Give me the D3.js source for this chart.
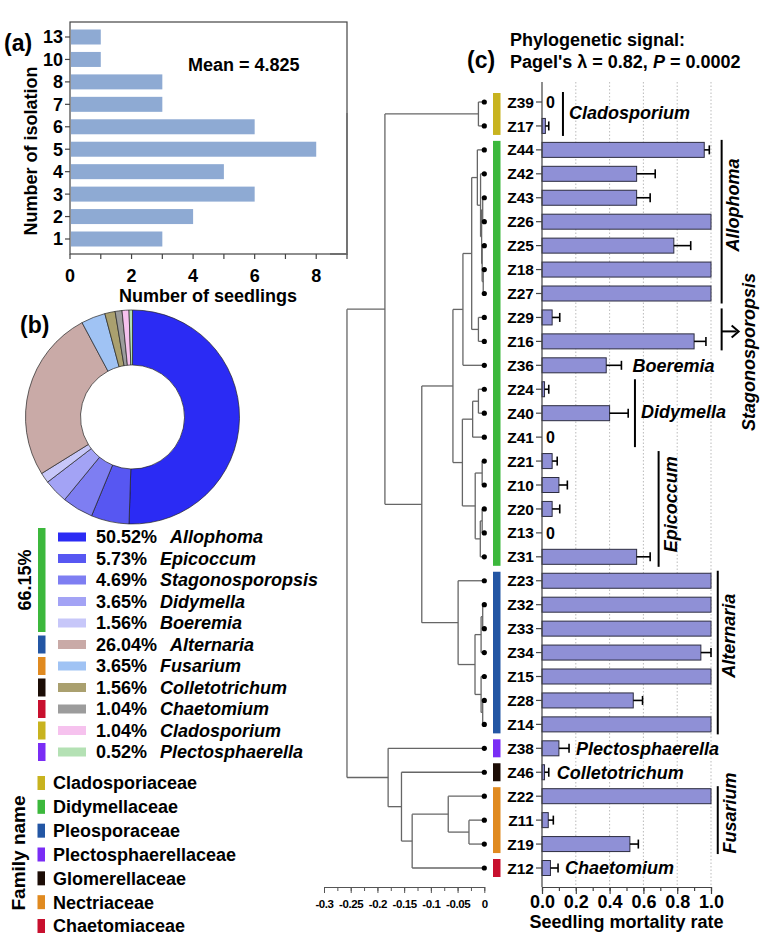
<!DOCTYPE html>
<html>
<head>
<meta charset="utf-8">
<script src="https://cdn.jsdelivr.net/npm/d3@7"></script>
<style>
  body { margin: 0; background: #fff; }
  svg text { font-family: "Liberation Sans", Arial, sans-serif; font-weight: bold; fill: #000; }
</style>
</head>
<body>
<svg width="761" height="939"></svg>
<script>
// ---- (a) number of isolations per seedling
const isolationCounts = ["13", "10", "8", "7", "6", "5", "4", "3", "2", "1"];
const seedlingNumbers = [1, 1, 3, 3, 6, 8, 5, 6, 4, 3];
const seedlingTicks = [0, 2, 4, 6, 8];

// ---- (b) genus composition
const genera = ["Allophoma", "Epicoccum", "Stagonosporopsis", "Didymella", "Boeremia", "Alternaria",
  "Fusarium", "Colletotrichum", "Chaetomium", "Cladosporium", "Plectosphaerella"];
const genusPercent = [50.52, 5.73, 4.69, 3.65, 1.56, 26.04, 3.65, 1.56, 1.04, 1.04, 0.52];
const genusColors = ["#2b2bf4", "#5757f2", "#7e7ef2", "#a3a3f5", "#c7c7f9", "#c9aaa7",
  "#a0c3f4", "#aaa06f", "#9c9c9c", "#f6c2ee", "#b4e1b4"];
const genusFamily = ["Didymellaceae", "Didymellaceae", "Didymellaceae", "Didymellaceae", "Didymellaceae",
  "Pleosporaceae", "Nectriaceae", "Glomerellaceae", "Chaetomiaceae", "Cladosporiaceae", "Plectosphaerellaceae"];

const families = ["Cladosporiaceae", "Didymellaceae", "Pleosporaceae", "Plectosphaerellaceae",
  "Glomerellaceae", "Nectriaceae", "Chaetomiaceae"];
const familyColors = ["#c8b31f", "#3cb83c", "#2356a4", "#7a2df5", "#1c0d06", "#e08a20", "#c8102e"];

// ---- (c) isolates, mortality and tree
const isolates = ["Z39", "Z17", "Z44", "Z42", "Z43", "Z26", "Z25", "Z18", "Z27", "Z29", "Z16", "Z36",
  "Z24", "Z40", "Z41", "Z21", "Z10", "Z20", "Z13", "Z31", "Z23", "Z32", "Z33", "Z34", "Z15", "Z28",
  "Z14", "Z38", "Z46", "Z22", "Z11", "Z19", "Z12"];
const isolateFamily = [0, 0, 1, 1, 1, 1, 1, 1, 1, 1, 1, 1, 1, 1, 1, 1, 1, 1, 1, 1,
  2, 2, 2, 2, 2, 2, 2, 3, 4, 5, 5, 5, 6];
const mortality = [0, 0.02, 0.96, 0.56, 0.56, 1, 0.78, 1, 1, 0.06, 0.9, 0.38,
  0.015, 0.4, 0, 0.06, 0.1, 0.06, 0, 0.56, 1, 1, 1, 0.94, 1, 0.54,
  1, 0.1, 0.015, 1, 0.037, 0.52, 0.05];
const mortalityErr = [0, 0.02, 0.03, 0.11, 0.08, 0, 0.1, 0, 0, 0.045, 0.07, 0.09,
  0.025, 0.11, 0, 0.03, 0.05, 0.045, 0, 0.08, 0, 0, 0, 0.06, 0, 0.055,
  0, 0.06, 0.025, 0, 0.03, 0.05, 0.045];
const mortalityTicks = [0, 0.2, 0.4, 0.6, 0.8, 1.0];
const treeTicks = [-0.3, -0.25, -0.2, -0.15, -0.1, -0.05, 0];

// [height, child, child]; leaves are isolate names
const tree = [-0.257,
  [-0.186,
    [-0.011, "Z39", "Z17"],
    [-0.117,
      [-0.0587,
        [-0.040,
          [-0.0236,
            [-0.013, "Z44", [-0.007, "Z42", [-0.005, [-0.003, "Z43", "Z26"], [-0.004, "Z25", [-0.002, "Z18", "Z27"]]]]],
            [-0.011, "Z29", "Z16"]],
          "Z36"],
        [-0.041,
          [-0.0218, [-0.011, "Z24", "Z40"], "Z41"],
          [-0.017, [-0.004, "Z21", "Z10"], [-0.0075, [-0.004, "Z20", "Z13"], "Z31"]]]],
      [-0.049, "Z23",
        [-0.0174, [-0.006, [-0.003, "Z32", "Z33"], "Z34"], [-0.006, "Z15", [-0.003, "Z28", "Z14"]]]]]],
  [-0.18, "Z38", [-0.155, "Z46", [-0.135, [-0.0675, "Z22", [-0.0287, "Z11", "Z19"]], "Z12"]]]];

// genus annotations next to the bars
const brackets = [
  { name: "Cladosporium", from: "Z39", to: "Z17", at: 0.124, text: "side", row: 0.45 },
  { name: "Allophoma", from: "Z44", to: "Z27", at: 1.063, text: "rot", row: 4.3, dx: 11 },
  { name: "Didymella", from: "Z24", to: "Z41", at: 0.55, text: "side", row: 12.95 },
  { name: "Epicoccum", from: "Z21", to: "Z31", at: 0.69, text: "rot", row: 16.8, dx: 12 },
  { name: "Alternaria", from: "Z23", to: "Z14", at: 1.04, text: "rot", row: 22.3, dx: 11 },
  { name: "Fusarium", from: "Z22", to: "Z19", at: 1.04, text: "rot", row: 29.7, dx: 12 }
];
const inlineLabels = [
  { name: "Boeremia", isolate: "Z36", gap: 11 },
  { name: "Plectosphaerella", isolate: "Z38", gap: 7 },
  { name: "Colletotrichum", isolate: "Z46", gap: 8 },
  { name: "Chaetomium", isolate: "Z12", gap: 7 }
];

const svg = d3.select("svg");
const lineColor = "#444";

// ================= panel (a) =================
const ax = d3.scaleLinear().domain([0, 9]).range([70, 347]);
const ay = d3.scalePoint().domain(isolationCounts).range([37, 239]);
const ga = svg.append("g");

ga.selectAll("rect.bar").data(seedlingNumbers).join("rect")
  .attr("class", "bar")
  .attr("x", ax(0) + 1)
  .attr("y", (d, i) => ay(isolationCounts[i]) - 7.5)
  .attr("width", d => ax(d) - ax(0) - 1)
  .attr("height", 15)
  .attr("fill", "#8eaad3");

ga.append("rect").attr("x", 70).attr("y", 22).attr("width", 277).attr("height", 232)
  .attr("fill", "none").attr("stroke", lineColor).attr("stroke-width", 1.2);

ga.selectAll("line.xt").data(d3.range(0, 10)).join("line")
  .attr("x1", d => ax(d)).attr("x2", d => ax(d))
  .attr("y1", 254).attr("y2", 259)
  .attr("stroke", lineColor).attr("stroke-width", 1.2);
ga.selectAll("text.xl").data(seedlingTicks).join("text")
  .attr("x", d => ax(d)).attr("y", 282)
  .attr("text-anchor", "middle").attr("font-size", 18)
  .text(d => d);

ga.selectAll("line.yt").data(isolationCounts).join("line")
  .attr("x1", 65).attr("x2", 70)
  .attr("y1", d => ay(d)).attr("y2", d => ay(d))
  .attr("stroke", lineColor).attr("stroke-width", 1.2);
ga.selectAll("text.yl").data(isolationCounts).join("text")
  .attr("x", 63).attr("y", d => ay(d)).attr("dy", "0.36em")
  .attr("text-anchor", "end").attr("font-size", 18)
  .text(d => d);

ga.append("text").attr("x", 208).attr("y", 302).attr("text-anchor", "middle")
  .attr("font-size", 18).text("Number of seedlings");
ga.append("text").attr("transform", "translate(31,151) rotate(-90)").attr("dy", "0.35em")
  .attr("text-anchor", "middle").attr("font-size", 18).text("Number of isolation");
const meanVal = d3.sum(seedlingNumbers, (d, i) => d * +isolationCounts[i]) / d3.sum(seedlingNumbers);
ga.append("text").attr("x", 188).attr("y", 71).attr("font-size", 18).text(`Mean = ${meanVal}`);
ga.append("text").attr("x", 4).attr("y", 51).attr("font-size", 23).text("(a)");

// ================= panel (b) =================
const gb = svg.append("g").attr("transform", "translate(132.5,417)");
const pie = d3.pie().sort(null).value(d => d);
const arc = d3.arc().innerRadius(52).outerRadius(107);
gb.selectAll("path").data(pie(genusPercent)).join("path")
  .attr("d", arc)
  .attr("fill", (d, i) => genusColors[i])
  .attr("stroke", "#222").attr("stroke-width", 0.7);
svg.append("text").attr("x", 20).attr("y", 333).attr("font-size", 23).text("(b)");

const ly = d3.scalePoint().domain(genera).range([537, 752]);
const gl = svg.append("g");
gl.selectAll("rect.sw").data(genera).join("rect")
  .attr("x", 58).attr("y", d => ly(d) - 4.5).attr("width", 28).attr("height", 9)
  .attr("fill", (d, i) => genusColors[i]);
const lt = gl.selectAll("text.lg").data(genera).join("text")
  .attr("x", 96).attr("y", d => ly(d)).attr("dy", "0.36em").attr("font-size", 18);
lt.append("tspan").text((d, i) => genusPercent[i].toFixed(2) + "%");
lt.append("tspan").attr("dx", 13).attr("font-style", "italic").text(d => d);

// family runs beside the genus legend
const runs = [];
genera.forEach((g, i) => {
  const last = runs[runs.length - 1];
  if (last && last.family === genusFamily[i]) last.end = g;
  else runs.push({ family: genusFamily[i], start: g, end: g });
});
gl.selectAll("rect.run").data(runs).join("rect")
  .attr("x", 38).attr("width", 7.5)
  .attr("y", d => ly(d.start) - 9)
  .attr("height", d => ly(d.end) - ly(d.start) + 18)
  .attr("fill", d => familyColors[families.indexOf(d.family)]);
const didyShare = d3.sum(genusPercent.filter((p, i) => genusFamily[i] === "Didymellaceae"));
gl.append("text")
  .attr("transform", `translate(25,${(ly(runs[0].start) + ly(runs[0].end)) / 2}) rotate(-90)`)
  .attr("dy", "0.35em").attr("text-anchor", "middle").attr("font-size", 18)
  .text(didyShare.toFixed(2) + "%");

const fy = d3.scalePoint().domain(families).range([783, 926]);
gl.selectAll("rect.fam").data(families).join("rect")
  .attr("x", 37.5).attr("y", d => fy(d) - 7).attr("width", 7.5).attr("height", 14)
  .attr("fill", (d, i) => familyColors[i]);
gl.selectAll("text.fam").data(families).join("text")
  .attr("x", 53).attr("y", d => fy(d)).attr("dy", "0.36em").attr("font-size", 18)
  .text(d => d);
gl.append("text").attr("transform", "translate(18,853) rotate(-90)").attr("dy", "0.35em")
  .attr("text-anchor", "middle").attr("font-size", 19).text("Family name");

// ================= panel (c) =================
const cy = d3.scalePoint().domain(isolates).range([102, 868]);
const bx = d3.scaleLinear().domain([0, 1]).range([542, 711]);
const tx = d3.scaleLinear().domain([-0.3, 0]).range([324, 484.3]);
const axisY = 887, topY = 82;
const gc = svg.append("g");

svg.append("text").attr("x", 467).attr("y", 68).attr("font-size", 23).text("(c)");
svg.append("text").attr("x", 510).attr("y", 46).attr("font-size", 18).text("Phylogenetic signal:");
const t2 = svg.append("text").attr("x", 510).attr("y", 68).attr("font-size", 18);
t2.append("tspan").text("Pagel's λ = 0.82, ");
t2.append("tspan").attr("font-style", "italic").text("P");
t2.append("tspan").text(" = 0.0002");

// gridlines
gc.selectAll("line.grid").data(mortalityTicks.slice(1)).join("line")
  .attr("x1", d => bx(d)).attr("x2", d => bx(d))
  .attr("y1", topY).attr("y2", axisY)
  .attr("stroke", "#aaa").attr("stroke-width", 0.8).attr("stroke-dasharray", "1.5,2");

// bars + error bars
const rows = isolates.map((id, i) => ({ id, v: mortality[i], e: mortalityErr[i], fam: isolateFamily[i] }));
gc.selectAll("rect.mb").data(rows.filter(r => r.v > 0)).join("rect")
  .attr("x", bx(0)).attr("y", d => cy(d.id) - 7.5)
  .attr("width", d => bx(d.v) - bx(0)).attr("height", 15)
  .attr("fill", "#8f90d6").attr("stroke", "#2d2d40").attr("stroke-width", 1);
const errRows = rows.filter(r => r.e > 0);
gc.selectAll("line.eb").data(errRows).join("line")
  .attr("x1", d => bx(d.v)).attr("x2", d => bx(d.v + d.e))
  .attr("y1", d => cy(d.id)).attr("y2", d => cy(d.id))
  .attr("stroke", "#000").attr("stroke-width", 1.6);
gc.selectAll("line.ec").data(errRows).join("line")
  .attr("x1", d => bx(d.v + d.e)).attr("x2", d => bx(d.v + d.e))
  .attr("y1", d => cy(d.id) - 4.5).attr("y2", d => cy(d.id) + 4.5)
  .attr("stroke", "#000").attr("stroke-width", 1.6);
gc.selectAll("text.zero").data(rows.filter(r => r.v === 0)).join("text")
  .attr("x", bx(0) + 4).attr("y", d => cy(d.id)).attr("dy", "0.38em").attr("font-size", 16)
  .text("0");

// y axis with isolate names
gc.append("line").attr("x1", bx(0)).attr("x2", bx(0)).attr("y1", topY).attr("y2", axisY)
  .attr("stroke", lineColor).attr("stroke-width", 1.2);
gc.selectAll("line.ct").data(isolates).join("line")
  .attr("x1", bx(0) - 6).attr("x2", bx(0))
  .attr("y1", d => cy(d)).attr("y2", d => cy(d))
  .attr("stroke", lineColor).attr("stroke-width", 1.2);
gc.selectAll("text.cl").data(isolates).join("text")
  .attr("x", bx(0) - 8).attr("y", d => cy(d)).attr("dy", "0.36em")
  .attr("text-anchor", "end").attr("font-size", 15.5)
  .text(d => d);

// x axis of mortality
const styleAxis = g => {
  g.select(".domain").attr("stroke", lineColor).attr("stroke-width", 1.2);
  g.selectAll(".tick line").attr("stroke", lineColor).attr("stroke-width", 1.2);
};
gc.append("g").attr("transform", `translate(0,${axisY})`)
  .call(d3.axisBottom(bx).tickValues(d3.range(0, 1.01, 0.1)).tickSize(4).tickFormat("").tickSizeOuter(0))
  .call(styleAxis);
gc.append("g").attr("transform", `translate(0,${axisY})`)
  .call(d3.axisBottom(bx).tickValues(mortalityTicks).tickSize(7).tickFormat(d3.format(".1f")).tickSizeOuter(0))
  .call(styleAxis)
  .call(g => g.selectAll(".tick text").attr("font-size", 18).attr("dy", 0).attr("y", 21)
    .attr("font-family", null).attr("fill", "#000"));
gc.append("text").attr("x", (bx(0) + bx(1)) / 2).attr("y", 928).attr("text-anchor", "middle")
  .attr("font-size", 18).text("Seedling mortality rate");

// family colour strips
const famRuns = [];
rows.forEach(r => {
  const last = famRuns[famRuns.length - 1];
  if (last && last.fam === r.fam) last.end = r.id;
  else famRuns.push({ fam: r.fam, start: r.id, end: r.id });
});
gc.selectAll("rect.strip").data(famRuns).join("rect")
  .attr("x", 493).attr("width", 7.5)
  .attr("y", d => cy(d.start) - 9)
  .attr("height", d => cy(d.end) - cy(d.start) + 18)
  .attr("fill", d => familyColors[d.fam]);

// dendrogram
const root = d3.hierarchy(tree, d => Array.isArray(d) ? d.slice(1) : null);
root.eachAfter(n => {
  n.px = tx(Array.isArray(n.data) ? n.data[0] : 0);
  n.py = n.children ? (n.children[0].py + n.children[n.children.length - 1].py) / 2 : cy(n.data);
});
const inner = root.descendants().filter(n => n.children);
const gt = gc.append("g").attr("stroke", "#666").attr("stroke-width", 1.3).attr("fill", "none");
gt.selectAll("line.v").data(inner).join("line")
  .attr("x1", n => n.px).attr("x2", n => n.px)
  .attr("y1", n => n.children[0].py).attr("y2", n => n.children[n.children.length - 1].py);
gt.selectAll("line.h").data(root.descendants().filter(n => n.parent)).join("line")
  .attr("x1", n => n.parent.px).attr("x2", n => n.px)
  .attr("y1", n => n.py).attr("y2", n => n.py);
// stray root edge left in the figure
gt.append("path")
  .attr("d", `M${root.px},${cy(isolates[0]) + 11}V${254}H${root.px - 17}`);
gc.selectAll("circle.leaf").data(root.leaves()).join("circle")
  .attr("cx", n => n.px).attr("cy", n => n.py).attr("r", 2.6).attr("fill", "#000");

// tree scale axis
const styleTreeAxis = g => {
  g.select(".domain").attr("stroke", "#555").attr("stroke-width", 1);
  g.selectAll(".tick line").attr("stroke", "#555").attr("stroke-width", 1);
};
gc.append("g").attr("transform", `translate(0,${axisY})`)
  .call(d3.axisBottom(tx).tickValues(d3.range(-0.3, 0.001, 0.025)).tickSize(4).tickFormat("").tickSizeOuter(0))
  .call(styleTreeAxis);
gc.append("g").attr("transform", `translate(0,${axisY})`)
  .call(d3.axisBottom(tx).tickValues(treeTicks).tickSize(6).tickFormat(d => String(d)).tickSizeOuter(0))
  .call(styleTreeAxis)
  .call(g => g.selectAll(".tick text").attr("font-size", 11.5).attr("font-weight", "normal")
    .attr("font-family", null).attr("fill", "#333").attr("letter-spacing", -0.4).attr("dy", 0).attr("y", 21));

// genus brackets and labels
const ga2 = gc.append("g");
brackets.forEach(b => {
  const y1 = cy(b.from) - 10, y2 = cy(b.to) + 10, x = bx(b.at);
  ga2.append("line").attr("x1", x).attr("x2", x).attr("y1", y1).attr("y2", y2)
    .attr("stroke", "#000").attr("stroke-width", 2);
  const ly2 = 102 + b.row * cy.step();
  if (b.text === "side") {
    ga2.append("text").attr("x", x + 6).attr("y", ly2).attr("dy", "0.36em")
      .attr("font-size", 18).attr("font-style", "italic").text(b.name);
  } else {
    ga2.append("text").attr("transform", `translate(${x + b.dx},${ly2}) rotate(-90)`)
      .attr("dy", "0.35em").attr("text-anchor", "middle")
      .attr("font-size", 18).attr("font-style", "italic").text(b.name);
  }
});
// Stagonosporopsis bracket with arrow
{
  const x = bx(1.063), y1 = cy("Z29") - 9, y2 = cy("Z16") + 9, ym = (y1 + y2) / 2 + 2;
  ga2.append("line").attr("x1", x).attr("x2", x).attr("y1", y1).attr("y2", y2)
    .attr("stroke", "#000").attr("stroke-width", 2);
  ga2.append("line").attr("x1", x).attr("x2", x + 15).attr("y1", ym).attr("y2", ym)
    .attr("stroke", "#000").attr("stroke-width", 2);
  ga2.append("path").attr("d", `M${x + 10},${ym - 6}L${x + 17},${ym}L${x + 10},${ym + 6}`)
    .attr("fill", "none").attr("stroke", "#000").attr("stroke-width", 2);
  ga2.append("text").attr("transform", `translate(${x + 27},${102 + 10.44 * cy.step()}) rotate(-90)`)
    .attr("dy", "0.35em").attr("text-anchor", "middle")
    .attr("font-size", 18).attr("font-style", "italic").text("Stagonosporopsis");
}
ga2.selectAll("text.inl").data(inlineLabels).join("text")
  .attr("x", d => {
    const i = isolates.indexOf(d.isolate);
    return bx(mortality[i] + mortalityErr[i]) + d.gap;
  })
  .attr("y", d => cy(d.isolate)).attr("dy", "0.36em")
  .attr("font-size", 18).attr("font-style", "italic")
  .text(d => d.name);
</script>
</body>
</html>
